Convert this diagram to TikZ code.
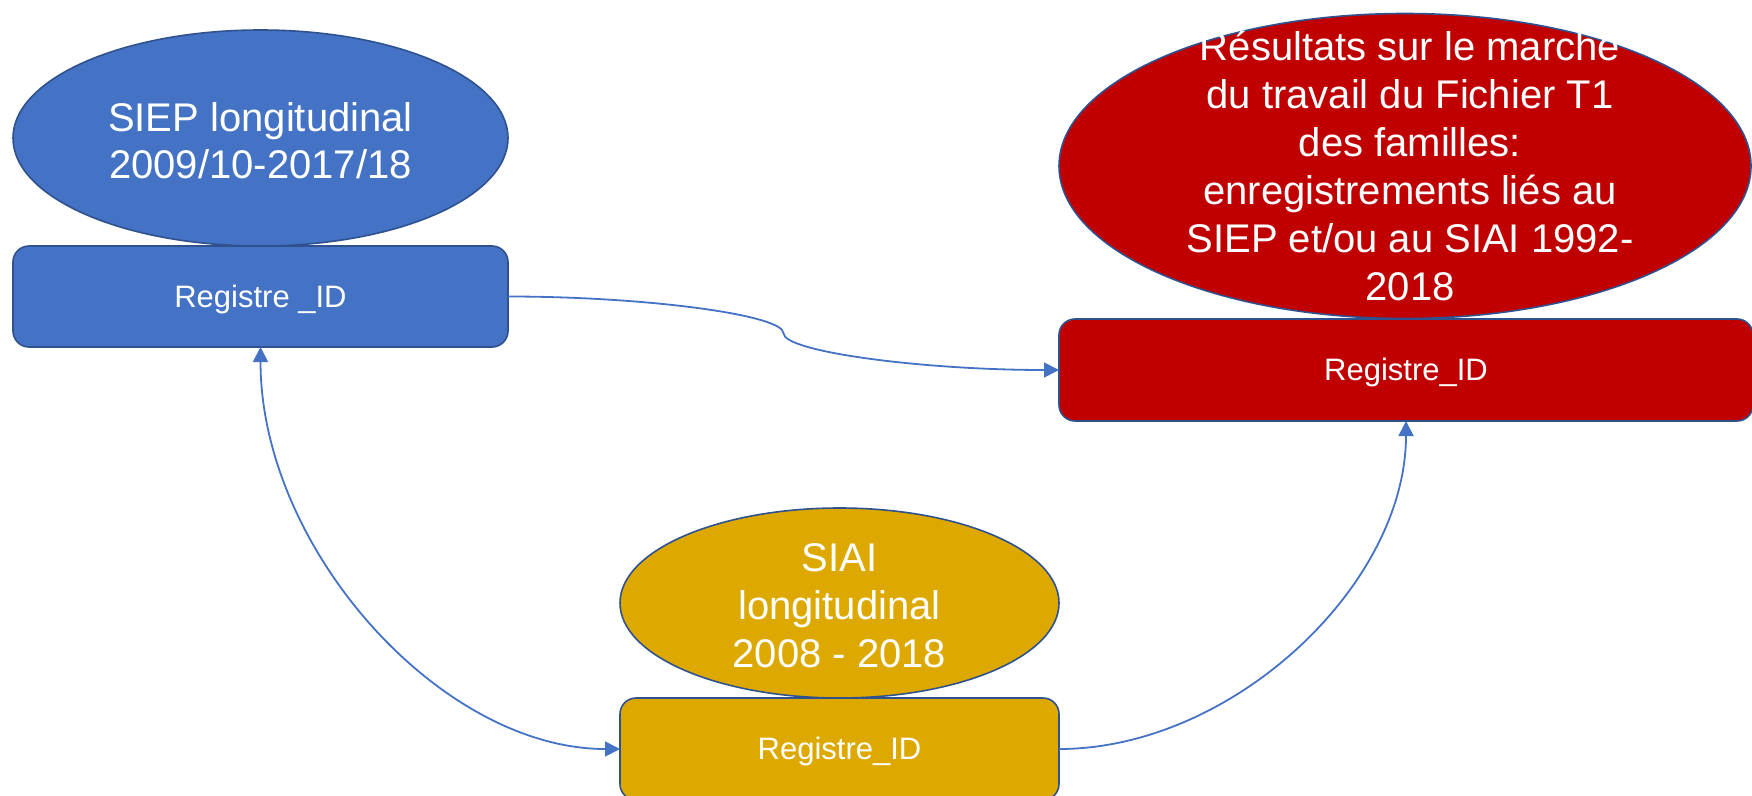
\documentclass[tikz,border=0pt]{standalone}
\usepackage{fontspec}
\setmainfont{Liberation Sans}
\usetikzlibrary{arrows.meta,shapes.geometric,calc}
\definecolor{pblue}{HTML}{4472C4}
\definecolor{pborder}{HTML}{2F528F}
\definecolor{pred}{HTML}{C00000}
\definecolor{pgold}{RGB}{221,169,0}
\tikzset{
  shapebase/.style={draw=pborder, line width=1.6pt, inner sep=0pt, outer sep=0pt, text=white},
  oval/.style={shapebase, ellipse},
  regbox/.style={shapebase, rectangle, rounded corners=16pt, font=\fontsize{31}{37}\selectfont, text height=21.3pt, text depth=0pt},
  bigtext/.style={text=white, align=center, inner sep=0pt, outer sep=0pt},
  conn/.style={draw=pblue, line width=1.8pt},
  arr/.style={-{Triangle[length=15pt,width=15pt]}},
  arrboth/.style={{Triangle[length=15pt,width=15pt]}-{Triangle[length=15pt,width=15pt]}}
}
\begin{document}
\begin{tikzpicture}[x=1pt,y=-1pt]
\useasboundingbox (0,0) rectangle (1752,795);
% SIEP
\node[oval, fill=pblue, minimum width=495pt, minimum height=216pt] (siepE) at (260.5,138) {};
\node[bigtext, font=\fontsize{40}{47}\selectfont] (siepT) at (260.5,141) {SIEP longitudinal\\2009/10-2017/18};
\node[regbox, fill=pblue, minimum width=495pt, minimum height=101pt] (siepR) at (260.5,296.5) {Registre \_ID};
% Red
\node[oval, fill=pred, minimum width=692pt, minimum height=305pt] (redE) at (1405,166) {};
\node[bigtext, font=\fontsize{40}{48}\selectfont] (redT) at (1410,166) {Résultats sur le marche\\du travail du Fichier T1\\des familles:\\enregistrements liés au\\SIEP et/ou au SIAI 1992-\\2018};
\node[regbox, fill=pred, minimum width=694pt, minimum height=102pt] (redR) at (1406,370) {Registre\_ID};
% SIAI
\node[oval, fill=pgold, minimum width=439pt, minimum height=190pt] (siaiE) at (839.5,603) {};
\node[bigtext, font=\fontsize{40}{48}\selectfont] (siaiT) at (839.5,606) {SIAI\\longitudinal\\2008 - 2018};
\node[regbox, fill=pgold, minimum width=439pt, minimum height=102pt] (siaiR) at (839.5,749) {Registre\_ID};
% connectors
\draw[conn, arr] let \p1=(siepR.east), \p2=(redR.west) in
  (siepR.east) .. controls ({0.75*\x1+0.25*\x2},\y1) and ({0.5*\x1+0.5*\x2},{0.75*\y1+0.25*\y2}) ..
  ({0.5*\x1+0.5*\x2},{0.5*\y1+0.5*\y2}) .. controls ({0.5*\x1+0.5*\x2},{0.25*\y1+0.75*\y2}) and ({0.25*\x1+0.75*\x2},\y2) .. (redR.west);
\draw[conn, arrboth] let \p1=(siepR.south), \p2=(siaiR.west) in
  (siepR.south) .. controls (\x1,{0.5*\y1+0.5*\y2}) and ({0.5*\x1+0.5*\x2},\y2) .. (siaiR.west);
\draw[conn, arr] let \p1=(siaiR.east), \p2=(redR.south) in
  (siaiR.east) .. controls ({0.5*\x1+0.5*\x2},\y1) and (\x2,{0.5*\y1+0.5*\y2}) .. (redR.south);
\end{tikzpicture}
\end{document}
